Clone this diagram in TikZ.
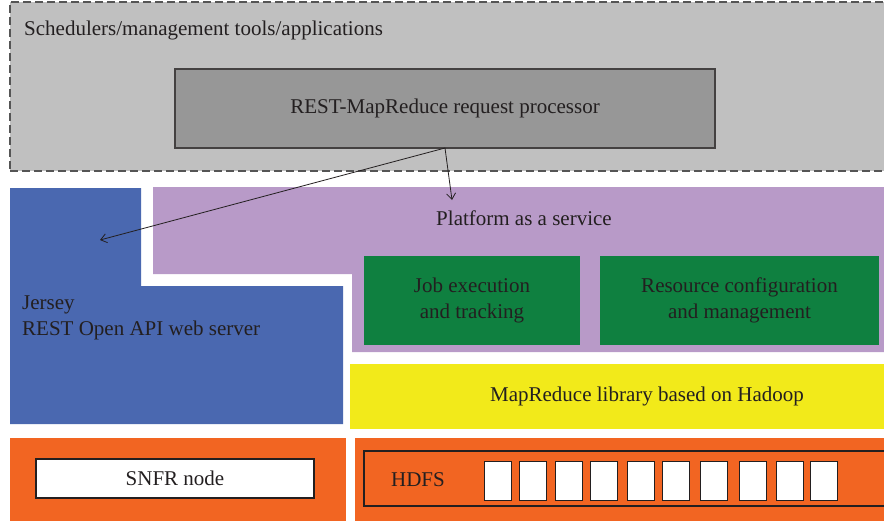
\documentclass[tikz,border=0pt]{standalone}
\usepackage{fontspec}
\setmainfont{Liberation Serif}
\usetikzlibrary{arrows.meta}

\definecolor{appgray}{HTML}{C0C0C0}
\definecolor{dashgray}{HTML}{555555}
\definecolor{procgray}{HTML}{979797}
\definecolor{jerseyblue}{HTML}{4A68B0}
\definecolor{paaspurple}{HTML}{B89AC8}
\definecolor{svcgreen}{HTML}{0F8040}
\definecolor{libyellow}{HTML}{F2EA1A}
\definecolor{hdfsorange}{HTML}{F26522}
\definecolor{textdark}{HTML}{231F20}

\begin{document}
\begin{tikzpicture}[x=1pt,y=-1pt,
    lbl/.style={text=textdark,font=\fontsize{21}{26}\selectfont,inner sep=0pt},
    block/.style={lbl,anchor=north west,outer sep=0pt,align=center},
    blk/.style={draw=textdark,line width=1.2pt,fill=white,anchor=north west,
        minimum width=27pt,minimum height=39pt,inner sep=0pt},
    arr/.style={-{Straight Barb[length=6pt,width=9pt]},line width=0.8pt,draw=textdark}]
    \clip (0,0) rectangle (884,520);

    % Top layer: schedulers and request processor
    \node[block,draw=dashgray,dash pattern=on 8pt off 4pt,line width=1.2pt,fill=appgray,
        minimum width=880pt,minimum height=169pt] (apps) at (10,2) {};
    \node[lbl,anchor=west] (appstitle) at (24,30) {Schedulers/management tools/applications};
    \node[block,draw=textdark!85,line width=1.2pt,fill=procgray,
        minimum width=540pt,minimum height=79pt] (proc) at (175,69) {REST-MapReduce request processor};

    % Jersey server (L-shape)
    \fill[jerseyblue] (10,188) -- (141,188) -- (141,286) -- (343,286) -- (343,424) -- (10,424) -- cycle;
    \node[lbl,anchor=west,align=left] (jersey) at (22,318) {Jersey\\REST Open API web server};

    % Platform as a service (L-shape)
    \fill[paaspurple] (153,187) -- (890,187) -- (890,352) -- (352,352) -- (352,274) -- (153,274) -- cycle;
    \node[lbl] (paas) at (524,218) {Platform as a service};
    \node[block,fill=svcgreen,minimum width=216pt,minimum height=89pt] (jobexec) at (364,256)
        {Job execution\\and tracking};
    \node[block,fill=svcgreen,minimum width=279pt,minimum height=89pt] (rescfg) at (600,256)
        {Resource configuration\\and management};

    % MapReduce library
    \node[block,fill=libyellow,minimum width=594pt,minimum height=65pt] (mrlib) at (350,364)
        {MapReduce library based on Hadoop};

    % Storage layer
    \node[block,fill=hdfsorange,minimum width=336pt,minimum height=90pt] (snfrbg) at (10,438) {};
    \node[block,fill=hdfsorange,minimum width=540pt,minimum height=90pt] (hdfsbg) at (355,438) {};
    \node[block,draw=textdark,line width=1.2pt,fill=white,
        minimum width=278pt,minimum height=39pt] (snfr) at (36,459) {SNFR node};
    \node[block,draw=textdark,line width=1.2pt,
        minimum width=530pt,minimum height=55pt] (hdfs) at (364,451) {};
    \node[lbl] (hdfslbl) at (418,480) {HDFS};
    \foreach \bx [count=\i] in {484,519,555,590,627,662,700,739,776,810}
        \node[blk] (blk\i) at (\bx,461) {};

    % Requests
    \coordinate (jerseyin) at (100,240);
    \coordinate (paasin) at (452,200);
    \draw[arr] (proc.south) -- (jerseyin);
    \draw[arr] (proc.south) -- (paasin);
\end{tikzpicture}
\end{document}
